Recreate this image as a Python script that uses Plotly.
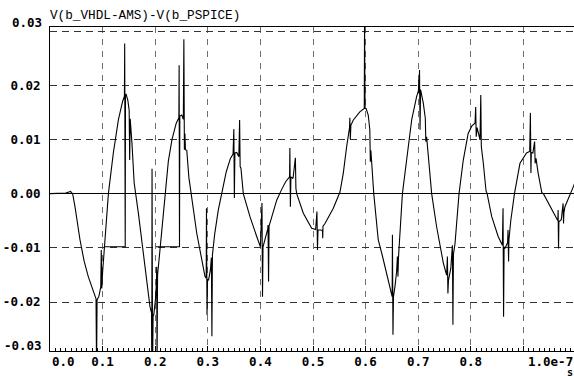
import plotly.graph_objects as go

# time in units of 1e-7 s, value in volts
time_e7 = [
    0.000, 0.030, 0.036, 0.039, 0.043, 0.0475, 0.057, 0.065, 0.0728, 0.081,
    0.0875, 0.0885, 0.0895, 0.093, 0.0965, 0.0975, 0.0985, 0.1000, 0.1035, 0.1046,
    0.111, 0.1204, 0.130, 0.138, 0.1415, 0.1420, 0.1430, 0.1035, 0.1430, 0.1435,
    0.1445, 0.148, 0.1505, 0.1515, 0.1525, 0.156, 0.160, 0.168, 0.176, 0.184,
    0.190, 0.1930, 0.1935, 0.1940, 0.1950, 0.1960, 0.1975, 0.2005, 0.2025, 0.2028,
    0.2035, 0.2045, 0.207, 0.212, 0.2186, 0.225, 0.232, 0.240, 0.2450, 0.2455,
    0.2462, 0.2015, 0.2462, 0.2468, 0.2504, 0.2535, 0.2545, 0.2555, 0.2565, 0.2575,
    0.260, 0.264, 0.268, 0.279, 0.2947, 0.2970, 0.2975, 0.2985, 0.2995, 0.3015,
    0.305, 0.3068, 0.3078, 0.3088, 0.313, 0.320, 0.326, 0.335, 0.343, 0.348,
    0.3495, 0.3505, 0.3515, 0.355, 0.359, 0.3605, 0.3615, 0.3630, 0.3675, 0.380,
    0.393, 0.400, 0.4030, 0.4040, 0.4050, 0.410, 0.4140, 0.4145, 0.4155, 0.4165,
    0.422, 0.431, 0.440, 0.448, 0.4555, 0.4560, 0.4570, 0.4580, 0.462, 0.4665,
    0.4675, 0.469, 0.4816, 0.4975, 0.505, 0.5075, 0.5085, 0.5095, 0.5140, 0.5180,
    0.5185, 0.5190, 0.5228, 0.5386, 0.5513, 0.5576, 0.5640, 0.5695, 0.5700, 0.5710,
    0.5720, 0.5767, 0.589, 0.5975, 0.5980, 0.5990, 0.6010, 0.6050, 0.6080, 0.6090,
    0.6100, 0.6155, 0.624, 0.632, 0.640, 0.646, 0.6505, 0.6510, 0.6520, 0.6530,
    0.6560, 0.6590, 0.6605, 0.6615, 0.6625, 0.6654, 0.6700, 0.6780, 0.6876, 0.6970,
    0.7005, 0.7010, 0.7015, 0.7025, 0.7035, 0.7045, 0.7097, 0.7135, 0.7145, 0.7160,
    0.7224, 0.7256, 0.7350, 0.7478, 0.7540, 0.7555, 0.7565, 0.7575, 0.7620, 0.7650,
    0.7660, 0.7670, 0.7700, 0.7776, 0.7857, 0.7950, 0.8020, 0.8080, 0.8093, 0.8103,
    0.8120, 0.8175, 0.8190, 0.8200, 0.8238, 0.8290, 0.8310, 0.8397, 0.8520, 0.8600,
    0.8613, 0.8623, 0.8633, 0.8650, 0.8700, 0.8708, 0.8718, 0.8725, 0.8760, 0.8810,
    0.8830, 0.8935, 0.9060, 0.9120, 0.9133, 0.9143, 0.9150, 0.9180, 0.9213, 0.9223,
    0.9240, 0.9280, 0.9350, 0.9380, 0.9506, 0.9600, 0.9655, 0.9660, 0.9668, 0.9675,
    0.9720, 0.9755, 0.9763, 0.9770, 0.9790, 0.9880, 0.9950, 1.0000,
]
diff_v = [
    0.0000, 0.0001, 0.0003, 0.0004, 0.0000, -0.0024, -0.0085, -0.0125, -0.0153, -0.0178,
    -0.0194, -0.0320, -0.0196, -0.0189, -0.0172, -0.0104, -0.0175, -0.0145, -0.0098, -0.0085,
    0.0000, 0.0075, 0.0136, 0.0170, 0.0180, 0.0277, -0.0098, -0.0098, -0.0098, 0.0182,
    0.0184, 0.0172, 0.0154, 0.0062, 0.0138, 0.0090, 0.0020, -0.0036, -0.0098, -0.0159,
    -0.0208, -0.0220, -0.0320, 0.0046, -0.0320, -0.0226, -0.0222, -0.0195, -0.0160, -0.0135,
    -0.0320, -0.0150, -0.0125, -0.0070, 0.0000, 0.0060, 0.0100, 0.0130, 0.0140, 0.0237,
    -0.0098, -0.0098, -0.0098, 0.0143, 0.0145, 0.0137, 0.0285, 0.0081, 0.0111, 0.0081,
    0.0080, 0.0030, 0.0000, -0.0073, -0.0153, -0.0156, -0.0027, -0.0224, -0.0158, -0.0159,
    -0.0140, -0.0118, -0.0263, -0.0113, -0.0075, -0.0030, 0.0000, 0.0040, 0.0065, 0.0073,
    0.0119, -0.0008, 0.0075, 0.0076, 0.0068, 0.0136, 0.0050, 0.0047, 0.0000, -0.0042,
    -0.0079, -0.0098, -0.0017, -0.0190, -0.0098, -0.0082, -0.0065, -0.0058, -0.0162, -0.0060,
    -0.0040, -0.0012, 0.0007, 0.0022, 0.0031, 0.0084, -0.0024, 0.0031, 0.0028, 0.0066,
    0.0010, 0.0000, -0.0036, -0.0064, -0.0066, -0.0033, -0.0104, -0.0067, -0.0067, -0.0068,
    -0.0082, -0.0060, -0.0055, -0.0027, 0.0003, 0.0038, 0.0087, 0.0122, 0.0140, 0.0100,
    0.0126, 0.0136, 0.0151, 0.0157, 0.0320, 0.0157, 0.0157, 0.0145, 0.0118, 0.0059,
    0.0080, 0.0000, -0.0085, -0.0115, -0.0147, -0.0172, -0.0190, -0.0076, -0.0260, -0.0190,
    -0.0170, -0.0143, -0.0116, -0.0153, -0.0118, -0.0067, 0.0000, 0.0062, 0.0136, 0.0179,
    0.0190, 0.0210, 0.0185, 0.0228, 0.0118, 0.0192, 0.0167, 0.0139, 0.0096, 0.0105,
    0.0031, 0.0000, -0.0061, -0.0128, -0.0150, -0.0116, -0.0184, -0.0160, -0.0138, -0.0095,
    -0.0242, -0.0112, -0.0092, 0.0000, 0.0062, 0.0111, 0.0125, 0.0130, 0.0160, 0.0105,
    0.0122, 0.0099, 0.0182, 0.0087, 0.0056, 0.0005, 0.0000, -0.0042, -0.0079, -0.0095,
    -0.0027, -0.0227, -0.0098, -0.0101, -0.0090, -0.0067, -0.0125, -0.0085, -0.0050, -0.0006,
    0.0000, 0.0056, 0.0075, 0.0078, 0.0149, 0.0038, 0.0076, 0.0075, 0.0096, 0.0056,
    0.0065, 0.0038, 0.0002, 0.0000, -0.0024, -0.0042, -0.0050, -0.0030, -0.0101, -0.0052,
    -0.0048, -0.0018, -0.0055, -0.0035, -0.0024, -0.0005, 0.0013, 0.0025,
]

x_tick_vals = [0.0, 0.1, 0.2, 0.3, 0.4, 0.5, 0.6, 0.7, 0.8, 0.9]
x_tick_text = ["", "0.1", "0.2", "0.3", "0.4", "0.5", "0.6", "0.7", "0.8", ""]
y_tick_vals = [-0.02, -0.01, 0.0, 0.01, 0.02, 0.03]
y_tick_text = ["-0.02", "-0.01", "0.00", "0.01", "0.02", ""]
trace_name = "V(b_VHDL-AMS)-V(b_PSPICE)"

TICK_FONT = dict(family="DejaVu Sans Mono", size=12.5, color="black", weight="bold")

fig = go.Figure()
fig.add_trace(go.Scatter(
    x=time_e7, y=diff_v, mode="lines", name=trace_name,
    line=dict(color="black", width=1.1), showlegend=False,
))

fig.update_layout(
    width=574, height=376,
    margin=dict(l=50, r=0, t=27, b=25),
    paper_bgcolor="white", plot_bgcolor="white",
    xaxis=dict(
        range=[0, 0.9962], tickmode="array", tickvals=x_tick_vals, ticktext=x_tick_text,
        showgrid=True, gridcolor="#6e6e6e", gridwidth=1, griddash="6px,6px",
        showline=True, linecolor="black", linewidth=1, mirror=True,
        ticks="inside", ticklen=5, tickcolor="black", tickwidth=1,
        minor=dict(dtick=0.01, tick0=0, ticks="inside", ticklen=3, tickcolor="black", showgrid=False),
        tickfont=TICK_FONT, zeroline=False, ticklabelstandoff=-1,
    ),
    yaxis=dict(
        range=[-0.02902, 0.03074], tickmode="array", tickvals=y_tick_vals, ticktext=y_tick_text,
        showgrid=True, gridcolor="#333333", gridwidth=1, griddash="7px,5px",
        showline=True, linecolor="black", linewidth=1,
        ticks="", tickfont=TICK_FONT,
        zeroline=True, zerolinecolor="black", zerolinewidth=1, ticklabelstandoff=6,
    ),
    annotations=[
        dict(text=trace_name, xref="paper", yref="paper", x=0, y=1, xanchor="left", yanchor="bottom",
             xshift=-2, yshift=2, showarrow=False, font=dict(family="Liberation Mono", size=12.7, color="black")),
        dict(text="0.03", xref="paper", yref="paper", x=0, y=1.0133, xanchor="right", yanchor="middle",
             xshift=-6, showarrow=False, font=TICK_FONT),
        dict(text="-0.03", xref="paper", yref="paper", x=0, y=0.0185, xanchor="right", yanchor="middle",
             xshift=-6, showarrow=False, font=TICK_FONT),
        dict(text="0.0", xref="paper", yref="paper", x=0, y=0, xanchor="left", yanchor="middle",
             xshift=0, yshift=-10, showarrow=False, font=TICK_FONT),
        dict(text="1.0e-7", xref="paper", yref="paper", x=1, y=0, xanchor="right", yanchor="middle",
             xshift=1, yshift=-10, showarrow=False, font=TICK_FONT),
        dict(text="s", xref="paper", yref="paper", x=1, y=0, xanchor="right", yanchor="middle",
             xshift=1, yshift=-21, showarrow=False,
             font=dict(family="DejaVu Sans Mono", size=10, color="black", weight="bold")),
    ],
)

fig.write_html(
    "out.html",
    config={"displayModeBar": False},
    post_script="document.body.style.margin='0';document.body.style.padding='0';",
)
